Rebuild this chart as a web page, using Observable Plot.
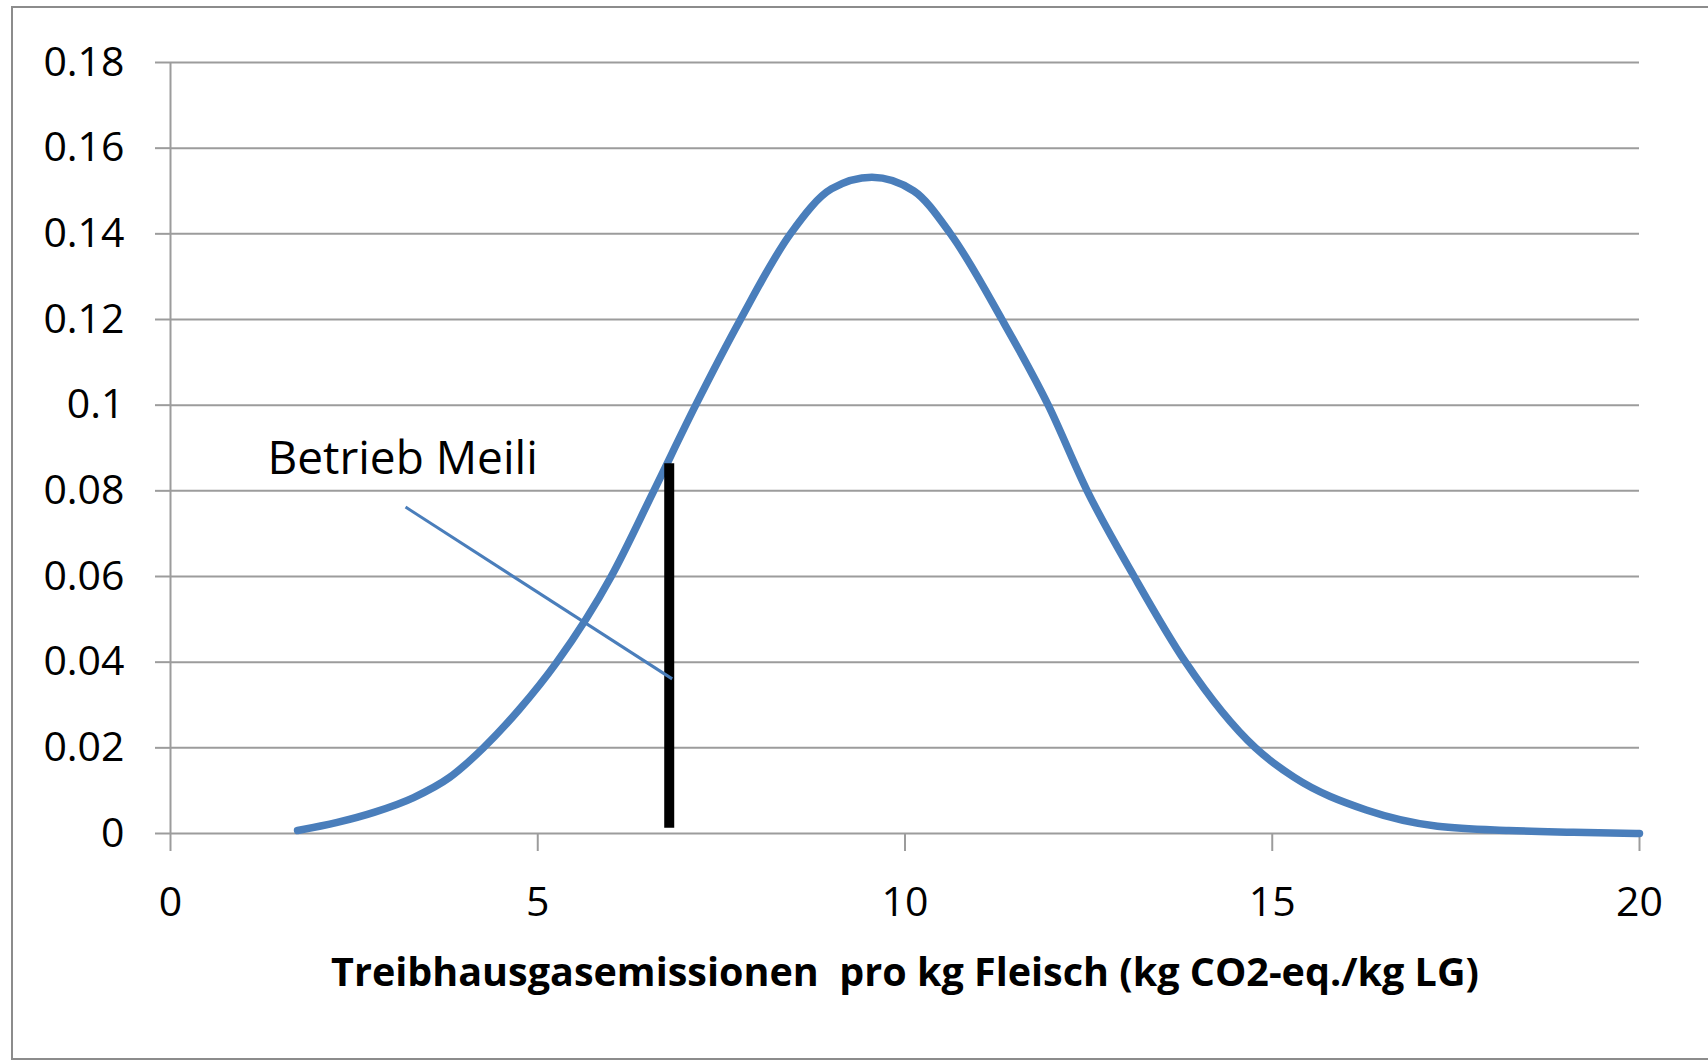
<!DOCTYPE html>
<html>
<head>
<meta charset="utf-8">
<script src="https://cdn.jsdelivr.net/npm/d3@7"></script>
<script src="https://cdn.jsdelivr.net/npm/@observablehq/plot@0.6"></script>
<style>
  html, body { margin: 0; padding: 0; background: #fff; overflow: hidden; }
  #wrap { position: relative; width: 1708px; height: 1060px; }
  #frame { position: absolute; left: 11px; top: 6px; width: 1720px; height: 1050px; border: 2px solid #8c8c8c; pointer-events: none; }
  svg { position: absolute; left: 0; top: 0; }
</style>
</head>
<body>
<div id="wrap"><div id="frame"></div></div>
<script>
// Distribution curve (gridline crossings, peak and tails)
const curveX = [1.73, 2.27, 2.78, 3.31, 3.80, 4.26, 4.75, 5.26, 6.00, 6.58, 7.15, 7.76, 8.44, 9.00, 9.55, 10.12, 10.62, 11.32, 11.95, 12.48, 13.12, 13.82, 14.77, 15.30, 16.28, 17.25, 18.22, 19.10, 20.0];
const curveY = [0.0007, 0.0026, 0.0050, 0.0084, 0.0131, 0.0200, 0.0290, 0.0400, 0.0600, 0.0800, 0.1000, 0.1200, 0.1400, 0.1505, 0.1532, 0.1500, 0.1400, 0.1200, 0.1000, 0.0800, 0.0600, 0.0400, 0.0200, 0.0131, 0.0055, 0.0017, 0.0007, 0.0003, 0.0];

// Marker for the farm
const farmX = [6.79];
const farmY1 = [0.0012];
const farmY2 = [0.0863];

// Annotation
const annotationText = ["Betrieb Meili"];
const annotationX = [1.32];
const annotationY = [0.0874];
const leaderX1 = [3.20], leaderY1 = [0.0762];
const leaderX2 = [6.83], leaderY2 = [0.0361];

// Axes
const xTicks = [0, 5, 10, 15, 20];
const xTickLabels = ["0", "5", "10", "15", "20"];
const yTicks = [0, 0.02, 0.04, 0.06, 0.08, 0.1, 0.12, 0.14, 0.16, 0.18];
const yTickLabels = ["0", "0.02", "0.04", "0.06", "0.08", "0.1", "0.12", "0.14", "0.16", "0.18"];
const xTitle = ["Treibhausgasemissionen  pro kg Fleisch (kg CO2-eq./kg LG)"];

const curve = curveX.map((x, i) => ({x, y: curveY[i]}));
const farm = farmX.map((x, i) => ({x, y1: farmY1[i], y2: farmY2[i]}));
const leader = leaderX1.map((x, i) => ({x1: x, y1: leaderY1[i], x2: leaderX2[i], y2: leaderY2[i]}));
const ann = annotationText.map((t, i) => ({t, x: annotationX[i], y: annotationY[i]}));

const grid = "#9c9c9c";
const blue = "#4a7ebb";

const chart = Plot.plot({
  width: 1708,
  height: 1060,
  marginLeft: 170,
  marginRight: 69,
  marginTop: 62,
  marginBottom: 227,
  style: {fontFamily: "'Open Sans', sans-serif", fontSize: "41px", color: "#000", background: "transparent"},
  x: {domain: [0, 20]},
  y: {domain: [0, 0.18]},
  marks: [
    Plot.ruleY(yTicks, {stroke: grid, strokeWidth: 2}),
    Plot.ruleX([0], {y1: 0, y2: 0.18, stroke: grid, strokeWidth: 2}),
    Plot.axisY({ticks: yTicks, tickFormat: d => yTickLabels[yTicks.indexOf(d)], tickSize: 15, tickPadding: 31, stroke: grid, strokeWidth: 2, fill: "#000", fontSize: 41, label: null}),
    Plot.axisX({ticks: xTicks, tickFormat: d => xTickLabels[xTicks.indexOf(d)], tickSize: 18, tickPadding: 35, stroke: grid, strokeWidth: 2, fill: "#000", fontSize: 41, label: null}),
    Plot.line(curve, {x: "x", y: "y", stroke: blue, strokeWidth: 7.5, curve: "monotone-x", strokeLinecap: "round", strokeLinejoin: "round"}),
    Plot.ruleX(farm, {x: "x", y1: "y1", y2: "y2", stroke: "#000", strokeWidth: 10}),
    Plot.link(leader, {x1: "x1", y1: "y1", x2: "x2", y2: "y2", stroke: blue, strokeWidth: 3}),
    Plot.text(ann, {x: "x", y: "y", text: "t", textAnchor: "start", fontSize: 46, fill: "#000"}),
    Plot.text(xTitle, {frameAnchor: "bottom", dy: 152, text: d => d, fontSize: 39.5, fontWeight: "bold", fill: "#000"})
  ]
});
document.getElementById("wrap").insertBefore(chart, document.getElementById("frame"));
</script>
</body>
</html>
